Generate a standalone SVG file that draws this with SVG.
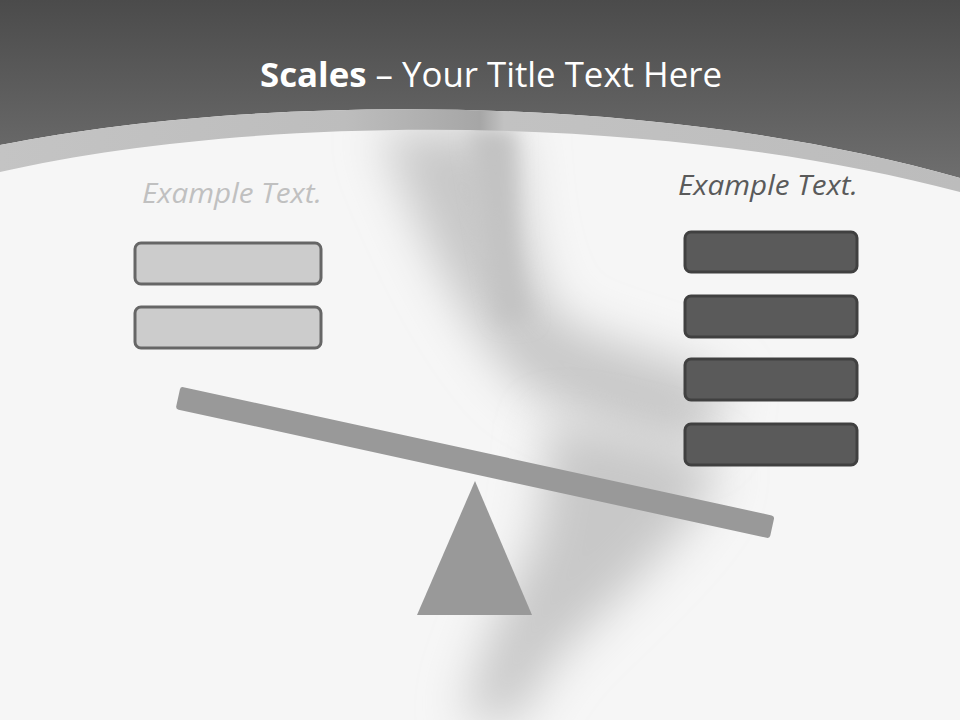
<svg xmlns="http://www.w3.org/2000/svg" width="960" height="720" viewBox="0 0 960 720">
<defs>
<linearGradient id="hdr" x1="0" y1="0" x2="0" y2="1">
<stop offset="0" stop-color="#4b4b4b"/>
<stop offset="1" stop-color="#6e6e6e"/>
</linearGradient>
<linearGradient id="band" x1="0" y1="0" x2="1" y2="0">
<stop offset="0" stop-color="#c4c4c4"/>
<stop offset="0.36" stop-color="#bdbdbd"/>
<stop offset="0.5" stop-color="#a6a6a6"/>
<stop offset="0.525" stop-color="#c2c2c2"/>
<stop offset="1" stop-color="#bcbcbc"/>
</linearGradient>
<filter id="blur" x="-50%" y="-50%" width="200%" height="200%">
<feGaussianBlur stdDeviation="24"/>
</filter>
<filter id="blur2" x="-50%" y="-50%" width="200%" height="200%">
<feGaussianBlur stdDeviation="10"/>
</filter>
<style>
.lbox{fill:#cccccc;stroke:#666666;stroke-width:3}
.rbox{fill:#5a5a5a;stroke:#404040;stroke-width:3}
.ex{font-family:"Open Sans","Liberation Sans",sans-serif;font-style:italic;font-size:28px}
.part{fill:#999999}
</style>
</defs>
<rect x="0" y="0" width="960" height="720" fill="#f6f6f6"/>
<g id="streak" fill="#c8c8c8">
<path d="M380,130 L515,130 C520,220 530,280 560,320 C620,350 700,360 730,390 L700,450 C620,440 560,410 520,385 C470,330 430,260 380,130 Z" filter="url(#blur)"/>
<path d="M470,130 L515,130 C515,200 512,260 530,320 L500,320 C490,260 480,200 470,130 Z" fill="#c2c2c2" filter="url(#blur2)"/>
<path d="M550,420 C620,430 690,445 720,470 C690,540 610,600 555,660 C535,690 522,710 518,720 L465,720 C478,660 505,600 535,540 C545,500 545,460 550,420 Z" filter="url(#blur)"/>
</g>
<path d="M0,0 H960 V178 C650,90 250,95 0,145 Z" fill="url(#hdr)"/>
<path d="M0,145 C250,95 650,90 960,178 V192 C650,110 250,115 0,172 Z" fill="url(#band)"/>
<g id="title">
<text x="491" y="87" text-anchor="middle" font-family="'Open Sans','Liberation Sans',sans-serif" font-size="34" fill="#ffffff" textLength="462" lengthAdjust="spacingAndGlyphs"><tspan font-weight="bold">Scales</tspan> – Your Title Text Here</text>
</g>
<g id="left-label"><text class="ex" x="232" y="203" text-anchor="middle" fill="#c0c0c0" textLength="180" lengthAdjust="spacingAndGlyphs">Example Text.</text></g>
<g id="right-label"><text class="ex" x="768" y="195" text-anchor="middle" fill="#5a5a5a" textLength="180" lengthAdjust="spacingAndGlyphs">Example Text.</text></g>
<g id="left-box-1"><rect class="lbox" x="135" y="243" width="186" height="41" rx="6"/></g>
<g id="left-box-2"><rect class="lbox" x="135" y="307" width="186" height="41" rx="6"/></g>
<g id="right-box-1"><rect class="rbox" x="685" y="232" width="172" height="40" rx="6"/></g>
<g id="right-box-2"><rect class="rbox" x="685" y="296" width="172" height="41" rx="6"/></g>
<g id="right-box-3"><rect class="rbox" x="685" y="359" width="172" height="41" rx="6"/></g>
<g id="right-box-4"><rect class="rbox" x="685" y="424" width="172" height="41" rx="6"/></g>
<g id="fulcrum"><polygon class="part" points="475,481 532,615 417,615"/></g>
<g id="beam"><rect class="part" x="171" y="451" width="608" height="23" rx="3" transform="rotate(12.3 475 463)"/></g>
</svg>
